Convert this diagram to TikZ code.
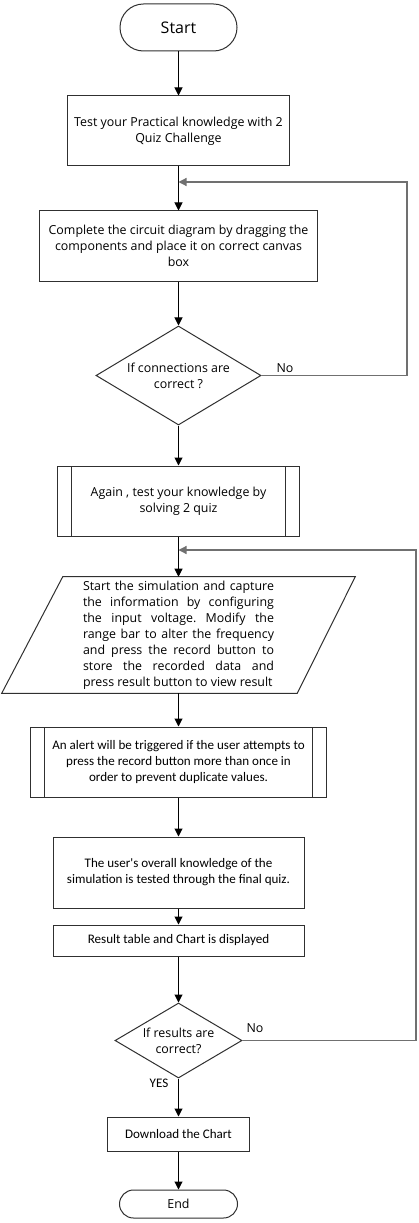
\documentclass[tikz,border=0pt]{standalone}
\usepackage{fontspec}
\setmainfont{Open Sans}
\newfontfamily\carl{Carlito}
\usetikzlibrary{arrows.meta,shapes.geometric,calc}
\definecolor{boxc}{HTML}{303030}
\definecolor{loopc}{HTML}{707070}
\frenchspacing
\begin{document}
\begin{tikzpicture}[x=0.75pt,y=-0.75pt,
  txt/.style={font=\fontsize{9.3}{12}\selectfont},
  ctxt/.style={font=\carl\fontsize{9.8}{12}\selectfont},
  box/.style={draw=boxc,line width=0.75pt,inner sep=0pt,align=center},
  predef/.style={box,path picture={
    \draw[boxc,line width=0.75pt] ($(path picture bounding box.north west)+(14,0)$) -- ($(path picture bounding box.south west)+(14,0)$);
    \draw[boxc,line width=0.75pt] ($(path picture bounding box.north east)+(-14,0)$) -- ($(path picture bounding box.south east)+(-14,0)$);}},
  term/.style={box},
  decision/.style={box,shape=diamond},
  arr/.style={-{Triangle[length=6pt,width=6pt]},line width=0.75pt,draw=black},
  loopline/.style={arr,draw=loopc,line width=0.9pt},
  lbl/.style={inner sep=0pt}]
\useasboundingbox (0,0) rectangle (418,1223);
\fill[white] (0,0) rectangle (418,1223);

\node[term,rounded corners=17.6pt,minimum width=87.75pt,minimum height=35.25pt,font=\fontsize{12}{14}\selectfont] (start) at (178.5,27.5) {Start};
\node[box,txt,minimum width=166.5pt,minimum height=52.5pt] (b1) at (178.5,131) {Test your Practical knowledge with 2\\Quiz Challenge};
\node[box,txt,minimum width=208.5pt,minimum height=52.5pt] (b2) at (178.5,246) {Complete the circuit diagram by dragging the\\components and place it on correct canvas\\box};
\node[decision,txt,aspect=1.667,minimum width=123.75pt,minimum height=74.25pt] (d1) at (178.5,375.5) {If connections are\\correct ?};
\node[predef,txt,minimum width=181.5pt,minimum height=52.5pt] (b3) at (178.5,501) {Again , test your knowledge by\\solving 2 quiz};
\node[txt,minimum width=264.75pt,minimum height=87pt,inner sep=0pt,text width=143.25pt,align=justify] (para) at (178.5,635)
  {\parfillskip=0pt Start the simulation and capture\linebreak the information by configuring\linebreak the input voltage. Modify the\linebreak range bar to alter the frequency\linebreak and press the record button to\linebreak store the recorded data and\linebreak press result button to view result};
\draw[boxc,line width=0.75pt] ($(para.north west)+(61,0)$) -- (para.north east) -- ($(para.south east)+(-58,0)$) -- (para.south west) -- cycle;
\node[predef,ctxt,minimum width=222pt,minimum height=52.5pt] (b4) at (178.5,762) {An alert will be triggered if the user attempts to\\press the record button more than once in\\order to prevent duplicate values.};
\node[box,ctxt,minimum width=188.25pt,minimum height=53.25pt] (b5) at (178.5,872.5) {The user's overall knowledge of the\\simulation is tested through the final quiz.};
\node[box,ctxt,minimum width=188.25pt,minimum height=23.25pt] (b6) at (178.5,940.5) {Result table and Chart is displayed};
\node[decision,txt,aspect=1.69,minimum width=95.25pt,minimum height=56.25pt] (d2) at (178.5,1040.5) {If results are\\correct?};
\node[box,ctxt,minimum width=106.5pt,minimum height=25.5pt] (b7) at (178.5,1134) {Download the Chart};
\node[term,rounded corners=10.5pt,minimum width=88.5pt,minimum height=21pt,txt] (end) at (178.5,1204) {End};

\coordinate (j1) at (178.5,182);
\coordinate (r1) at (407,375.5);
\coordinate (j2) at (178.5,550);
\coordinate (r2) at (416,1040.5);

\draw[arr] (start) -- (b1);
\draw[arr] (b1) -- (b2);
\draw[arr] (b2) -- (d1);
\draw[arr] (d1) -- (b3);
\draw[arr] (b3) -- (para);
\draw[arr] (para) -- (b4);
\draw[arr] (b4) -- (b5);
\draw[arr] (b5) -- (b6);
\draw[arr] (b6) -- (d2);
\draw[arr] (d2) -- (b7);
\draw[arr] (b7) -- (end);
\draw[loopline] (d1.east) -- (r1) |- (j1);
\draw[loopline] (d2.east) -- (r2) |- (j2);

\node[lbl,txt] (no1) at (285,368) {No};
\node[lbl,txt] (no2) at (255,1028) {No};
\node[lbl,ctxt] (yes) at (159,1083) {YES};
\end{tikzpicture}
\end{document}
